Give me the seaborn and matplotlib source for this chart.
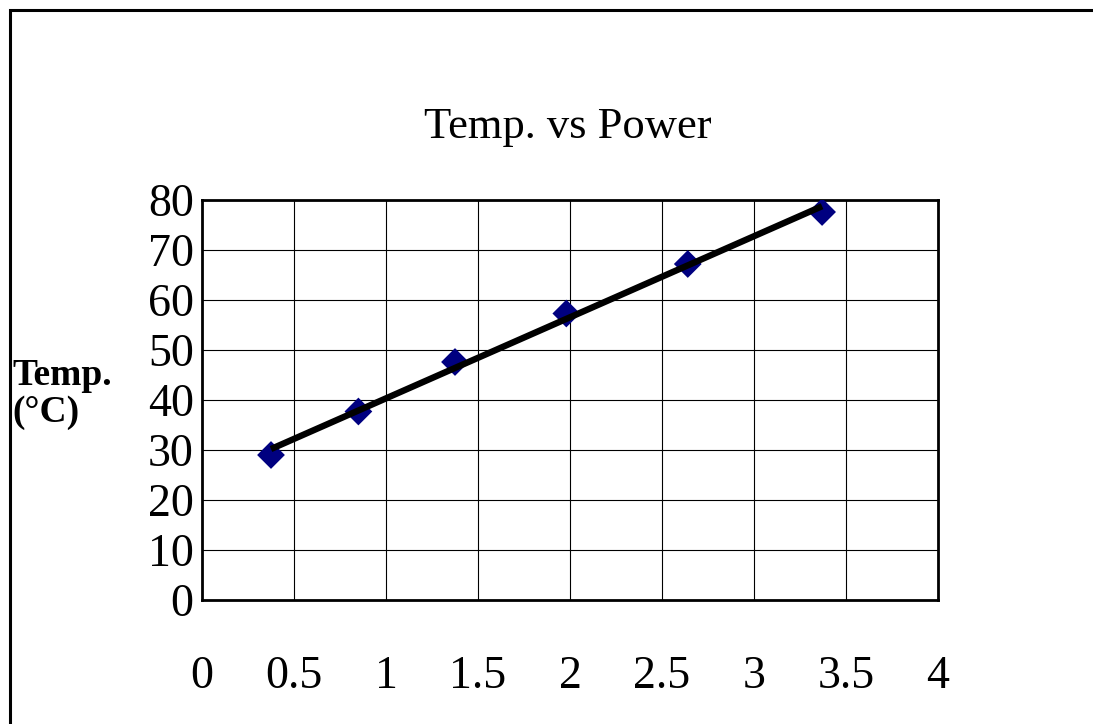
import matplotlib
matplotlib.use("Agg")
import matplotlib.pyplot as plt
import seaborn as sns
import pandas as pd
from matplotlib.patches import Rectangle

power = [0.375, 0.85, 1.375, 1.98, 2.64, 3.37]
temp = [29.0, 37.7, 47.6, 57.3, 67.2, 77.6]
x_ticks = [0, 0.5, 1, 1.5, 2, 2.5, 3, 3.5, 4]
y_ticks = [0, 10, 20, 30, 40, 50, 60, 70, 80]
title = "Temp. vs Power"
ylabel = "Temp.\n(°C)"

df = pd.DataFrame({"power": power, "temp": temp})

sns.set_style("white")
plt.rcParams["font.family"] = ["Liberation Serif", "DejaVu Serif"]
plt.rcParams["text.color"] = "black"
plt.rcParams["xtick.color"] = "black"
plt.rcParams["ytick.color"] = "black"

W, H = 1093, 724
fig = plt.figure(figsize=(W / 100, H / 100), dpi=100)
ax = fig.add_axes([202 / W, 1 - 600 / H, 736 / W, 400 / H])

sns.scatterplot(data=df, x="power", y="temp", ax=ax, marker="D", s=200,
                color="#000080", edgecolor="none", linewidth=0, zorder=3)
sns.regplot(data=df, x="power", y="temp", ax=ax, scatter=False, ci=None,
            line_kws={"color": "black", "lw": 4.6, "solid_capstyle": "butt", "zorder": 4})

ax.set_xlim(0, 4)
ax.set_ylim(0, 80)
ax.set_xticks(x_ticks)
ax.set_yticks(y_ticks)
ax.set_xticklabels([f"{t:g}" for t in x_ticks])
ax.set_yticklabels([f"{t:g}" for t in y_ticks])
ax.tick_params(axis="x", length=0, pad=40, labelsize=33, labelcolor="black")
ax.tick_params(axis="y", length=0, pad=6, labelsize=33, labelcolor="black")
ax.set_xlabel("")
ax.set_ylabel("")
ax.grid(True, color="black", lw=0.8)
ax.set_axisbelow(True)
for s in ax.spines.values():
    s.set_visible(True)
    s.set_color("black")
    s.set_linewidth(2)

fig.text(568 / W, 1 - 127 / H, title, ha="center", va="center", fontsize=32, color="black")
fig.text(12 / W, 1 - 394 / H, ylabel, ha="left", va="center", fontsize=27,
         fontweight="bold", linespacing=1.1, color="black")

fig.patches.append(Rectangle((10 / W, -0.2), 1.5, 1.2 - 9.5 / H, transform=fig.transFigure,
                             fill=False, edgecolor="black", lw=2.2))

fig.savefig("out.png", dpi=100, facecolor="white")
